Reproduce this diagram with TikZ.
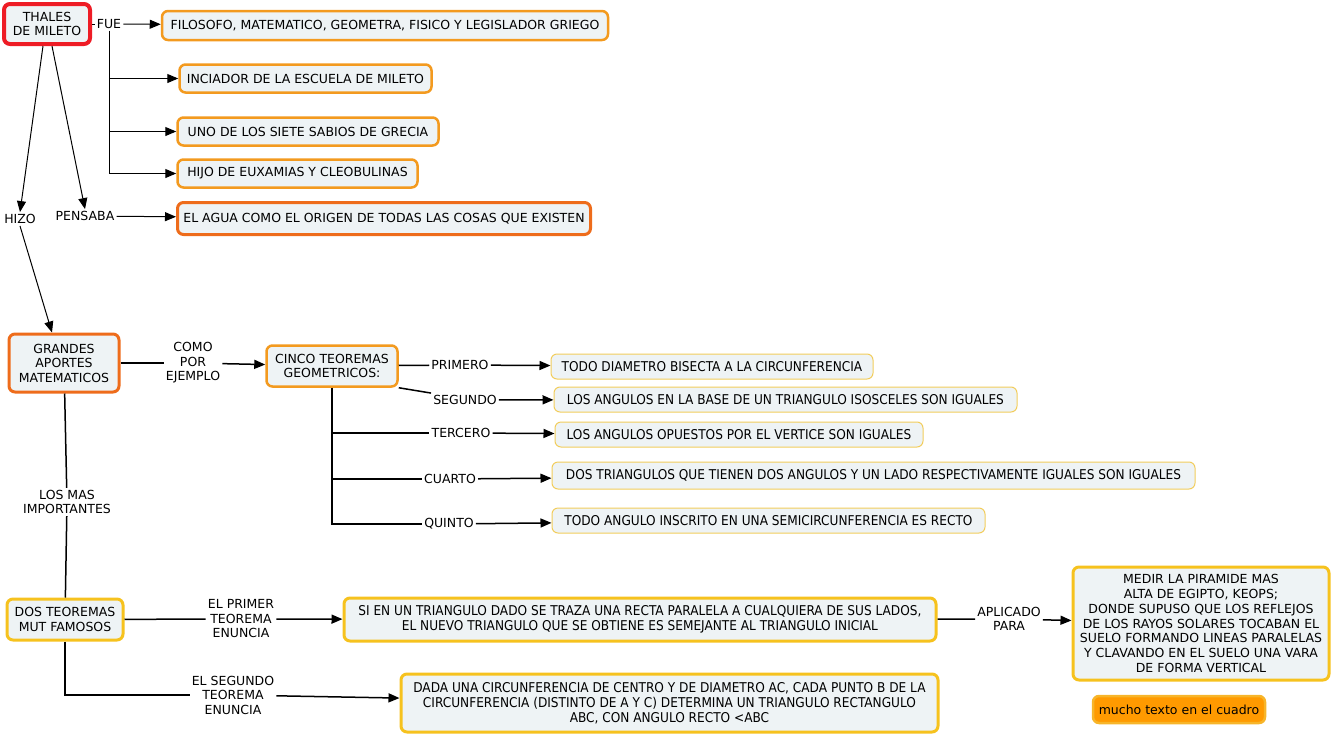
\documentclass[tikz,border=0pt]{standalone}
\usepackage{fontspec}
\setmainfont{DejaVu Sans}
\newfontfamily\condfont{DejaVu Sans Condensed}
\usetikzlibrary{arrows.meta,positioning}

\definecolor{boxfill}{HTML}{EEF3F5}
\definecolor{redline}{HTML}{EE1C25}
\definecolor{orangeline}{HTML}{F39A1F}
\definecolor{darkorange}{HTML}{EE6C1B}
\definecolor{yellowline}{HTML}{F6C21E}
\definecolor{paleyellow}{HTML}{F2CD5C}
\definecolor{muchofill}{HTML}{FF9A00}
\definecolor{mucholine}{HTML}{F7B52A}

\tikzset{
  concept/.style={draw, rounded corners=6pt, fill=boxfill, align=center,
    inner sep=3pt, font=\fontsize{12.5}{14.5}\selectfont},
  thalesbox/.style={concept, draw=redline, line width=4pt},
  fuebox/.style={concept, draw=orangeline, line width=2.5pt},
  mainbox/.style={concept, draw=darkorange, line width=3pt},
  teobox/.style={concept, draw=paleyellow, line width=1pt,
    font=\condfont\fontsize{13.5}{15}\selectfont},
  bigbox/.style={concept, draw=yellowline, line width=3pt,
    font=\condfont\fontsize{13.5}{15}\selectfont},
  muchobox/.style={concept, fill=muchofill, draw=mucholine, line width=2.5pt},
  link/.style={align=center, inner sep=2pt, font=\fontsize{12.5}{14.5}\selectfont},
  conn/.style={line width=1pt},
  arr/.style={conn, -{Triangle[length=11pt,width=9pt]}},
}

\begin{document}
\begin{tikzpicture}[x=1pt,y=-1pt]
  \useasboundingbox (0,0) rectangle (1331,734);
  % concepts
  \node[thalesbox, minimum width=86, minimum height=40] (thales) at (47,24) {THALES\\DE MILETO};
  \node[fuebox, minimum width=446, minimum height=29] (filosofo) at (385,25.5) {FILOSOFO, MATEMATICO, GEOMETRA, FISICO Y LEGISLADOR GRIEGO};
  \node[fuebox, minimum width=252, minimum height=28] (iniciador) at (305.5,78.5) {INCIADOR DE LA ESCUELA DE MILETO};
  \node[fuebox, minimum width=261, minimum height=28] (sabios) at (308,131.5) {UNO DE LOS SIETE SABIOS DE GRECIA};
  \node[fuebox, minimum width=240, minimum height=28] (hijo) at (297.5,173.5) {HIJO DE EUXAMIAS Y CLEOBULINAS};
  \node[mainbox, minimum width=413, minimum height=32] (agua) at (384,218.5) {EL AGUA COMO EL ORIGEN DE TODAS LAS COSAS QUE EXISTEN};
  \node[mainbox, minimum width=110, minimum height=58] (aportes) at (64,363) {GRANDES\\APORTES\\MATEMATICOS};
  \node[fuebox, minimum width=131, minimum height=41] (cinco) at (332,366) {CINCO TEOREMAS\\GEOMETRICOS:};
  \node[teobox, minimum width=322, minimum height=25] (teo1) at (712,366.5) {TODO DIAMETRO BISECTA A LA CIRCUNFERENCIA};
  \node[teobox, minimum width=463, minimum height=25] (teo2) at (785.5,399.5) {LOS ANGULOS EN LA BASE DE UN TRIANGULO ISOSCELES SON IGUALES};
  \node[teobox, minimum width=368, minimum height=25] (teo3) at (739,434.5) {LOS ANGULOS OPUESTOS POR EL VERTICE SON IGUALES};
  \node[teobox, minimum width=643, minimum height=27] (teo4) at (873.5,475.5) {DOS TRIANGULOS QUE TIENEN DOS ANGULOS Y UN LADO RESPECTIVAMENTE IGUALES SON IGUALES};
  \node[teobox, minimum width=433, minimum height=25] (teo5) at (768.5,520.5) {TODO ANGULO INSCRITO EN UNA SEMICIRCUNFERENCIA ES RECTO};
  \node[bigbox, minimum width=116, minimum height=41, font=\fontsize{12.5}{14.5}\selectfont] (famosos) at (65,619.5) {DOS TEOREMAS\\MUT FAMOSOS};
  \node[bigbox, minimum width=592, minimum height=43] (paralela) at (640,619.5) {SI EN UN TRIANGULO DADO SE TRAZA UNA RECTA PARALELA A CUALQUIERA DE SUS LADOS,\\EL NUEVO TRIANGULO QUE SE OBTIENE ES SEMEJANTE AL TRIANGULO INICIAL};
  \node[bigbox, minimum width=256, minimum height=113, font=\fontsize{12.5}{14.8}\selectfont] (piramide) at (1201,623.5) {MEDIR LA PIRAMIDE MAS\\ALTA DE EGIPTO, KEOPS;\\DONDE SUPUSO QUE LOS REFLEJOS\\DE LOS RAYOS SOLARES TOCABAN EL\\SUELO FORMANDO LINEAS PARALELAS\\Y CLAVANDO EN EL SUELO UNA VARA\\DE FORMA VERTICAL};
  \node[bigbox, minimum width=537, minimum height=58] (circ) at (669.5,703) {DADA UNA CIRCUNFERENCIA DE CENTRO Y DE DIAMETRO AC, CADA PUNTO B DE LA\\CIRCUNFERENCIA (DISTINTO DE A Y C) DETERMINA UN TRIANGULO RECTANGULO\\ABC, CON ANGULO RECTO <ABC};
  \node[muchobox, minimum width=172, minimum height=27] (mucho) at (1179,709.5) {mucho texto en el cuadro};
  % linking words
  \node[link] (fue) at (109,24) {FUE};
  \node[link] (hizo) at (20,219) {HIZO};
  \node[link] (pensaba) at (85,216) {PENSABA};
  \node[link] (como) at (193,363) {COMO\\POR\\EJEMPLO};
  \node[link] (primero) at (460,365) {PRIMERO};
  \node[link] (segundo) at (465,400) {SEGUNDO};
  \node[link] (tercero) at (461,433) {TERCERO};
  \node[link] (cuarto) at (450,479) {CUARTO};
  \node[link] (quinto) at (449,524) {QUINTO};
  \node[link] (importantes) at (67,502) {LOS MAS\\IMPORTANTES};
  \node[link] (enuncia1) at (241,619) {EL PRIMER\\TEOREMA\\ENUNCIA};
  \node[link] (aplicado) at (1009,619) {APLICADO\\PARA};
  \node[link] (enuncia2) at (233,695) {EL SEGUNDO\\TEOREMA\\ENUNCIA};
  % thales
  \draw[conn] (thales) -- (fue);
  \draw[arr] (fue) -- (filosofo);
  \draw[arr] (fue.south) |- (iniciador.west);
  \draw[arr] (fue.south) |- (sabios.west);
  \draw[arr] (fue.south) |- (hijo.west);
  \draw[arr] ([xshift=-4pt]thales.south) -- (hizo.north);
  \draw[arr] ([xshift=5pt]thales.south) -- (pensaba.north);
  \draw[arr] (pensaba) -- (agua);
  \draw[arr] (hizo.south) -- ([xshift=-12pt]aportes.north);
  % aportes
  \draw[line width=1.5pt] (aportes) -- (como);
  \draw[arr, line width=1.5pt] (como) -- (cinco);
  \draw[line width=1.5pt] (aportes) -- (importantes);
  \draw[line width=1.5pt] (importantes) -- (famosos);
  % cinco teoremas
  \draw[line width=1.5pt] (cinco) -- (primero);
  \draw[arr, line width=1.5pt] (primero) -- (teo1);
  \draw[line width=1.5pt] (cinco.south east) -- (segundo.north west);
  \draw[arr, line width=1.5pt] (segundo) -- (teo2);
  \draw[line width=1.5pt] (cinco.south) |- (tercero.west);
  \draw[arr, line width=1.5pt] (tercero) -- (teo3);
  \draw[line width=1.5pt] (cinco.south) |- (cuarto.west);
  \draw[arr, line width=1.5pt] (cuarto) -- (teo4);
  \draw[line width=1.5pt] (cinco.south) |- (quinto.west);
  \draw[arr, line width=1.5pt] (quinto) -- (teo5);
  % dos teoremas
  \draw[line width=1.5pt] (famosos) -- (enuncia1);
  \draw[arr, line width=1.5pt] (enuncia1) -- (paralela);
  \draw[line width=1.5pt] (paralela) -- (aplicado);
  \draw[arr, line width=1.5pt] (aplicado) -- (piramide);
  \draw[line width=1.5pt] (famosos.south) |- (enuncia2.west);
  \draw[arr, line width=1.5pt] (enuncia2) -- (circ);
\end{tikzpicture}
\end{document}
